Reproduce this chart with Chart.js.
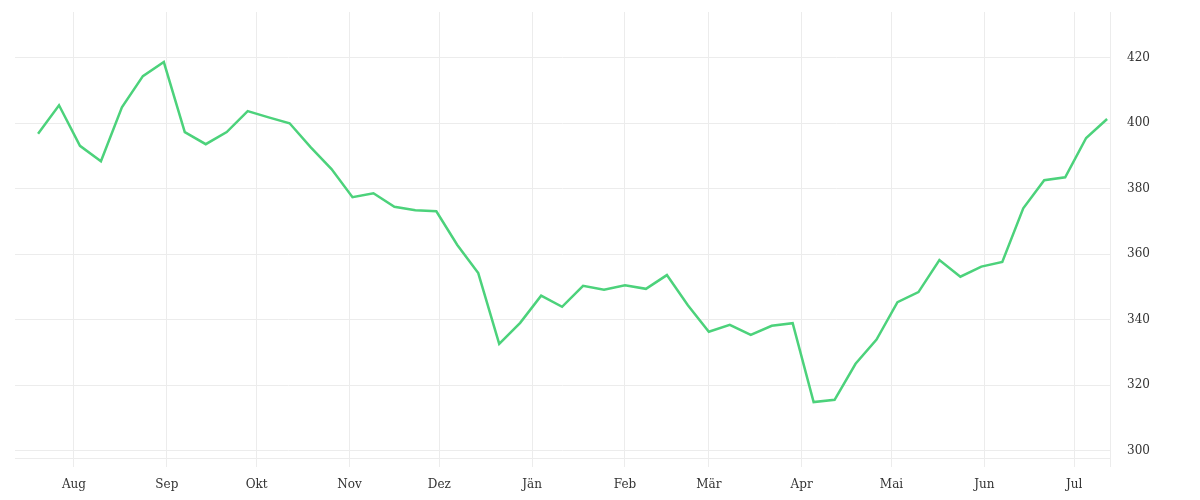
<!DOCTYPE html>
<html>
<head>
<meta charset="utf-8">
<script src="https://cdn.jsdelivr.net/npm/chart.js@4.4.0/dist/chart.umd.min.js"></script>
<style>
  html, body { margin: 0; padding: 0; background: #fff; }
  #wrap { width: 1200px; height: 500px; }
</style>
</head>
<body>
<div id="wrap"><canvas id="chart"></canvas></div>
<script>
// Wöchentliche Werte, Start 20. Juli (Tag -12 relativ zum 1. August)
var firstDay = -12;
var values = [
    396.8, 405.5, 393.1, 388.4, 404.9, 414.4, 418.7, 397.3, 393.6, 397.3,
    403.7, 401.8, 400.0, 392.7, 386.0, 377.4, 378.6, 374.5, 373.4, 373.1,
    362.8, 354.2, 332.6, 339.0, 347.3, 343.9, 350.3, 349.1, 350.5, 349.4,
    353.6, 344.4, 336.3, 338.4, 335.3, 338.1, 338.9, 314.8, 315.5, 326.5,
    333.9, 345.3, 348.4, 358.2, 353.1, 356.2, 357.6, 374.0, 382.6, 383.5,
    395.5, 401.3
];

// Monatsanfänge (Tage ab 1. August) und Beschriftungen
var monthDays = [0, 31, 61, 92, 122, 153, 184, 212, 243, 273, 304, 334];
var monthLabels = ['Aug', 'Sep', 'Okt', 'Nov', 'Dez', 'Jän', 'Feb', 'Mär', 'Apr', 'Mai', 'Jun', 'Jul'];
var yTicks = [300, 320, 340, 360, 380, 400, 420];

var xMin = -19.7, xMax = 346;
var gridColor = '#ececec';

var points = values.map(function (v, i) {
    return { x: firstDay + i * 7, y: v };
});

new Chart(document.getElementById('chart'), {
    type: 'line',
    data: {
        datasets: [{
            data: points,
            borderColor: '#4cd27b',
            borderWidth: 2.5,
            pointRadius: 0,
            tension: 0,
            fill: false
        }]
    },
    options: {
        responsive: true,
        maintainAspectRatio: false,
        animation: false,
        layout: { padding: { left: 15, right: 33, top: 12, bottom: 1 } },
        plugins: {
            legend: { display: false },
            tooltip: { enabled: false }
        },
        scales: {
            x: {
                type: 'linear',
                min: xMin,
                max: xMax,
                afterBuildTicks: function (axis) {
                    var t = monthDays.map(function (d) { return { value: d }; });
                    t.push({ value: xMax });
                    axis.ticks = t;
                },
                afterFit: function (axis) {
                    axis.height = 41;
                    axis.paddingLeft = 0;
                    axis.paddingRight = 0;
                },
                grid: { color: gridColor, lineWidth: 1, drawTicks: true, tickLength: 9, tickColor: gridColor },
                border: { display: true, color: gridColor },
                ticks: {
                    autoSkip: false,
                    maxRotation: 0,
                    padding: 11,
                    color: '#333',
                    font: { family: 'DejaVu Serif', size: 12 },
                    callback: function (value) {
                        var idx = monthDays.indexOf(value);
                        return idx >= 0 ? monthLabels[idx] : '';
                    }
                }
            },
            y: {
                position: 'right',
                min: 297.7,
                max: 434,
                afterBuildTicks: function (axis) {
                    axis.ticks = yTicks.map(function (v) { return { value: v }; });
                },
                afterFit: function (axis) {
                    axis.paddingTop = 0;
                    axis.paddingBottom = 0;
                },
                grid: { color: gridColor, lineWidth: 1, drawTicks: false },
                border: { display: true, color: gridColor },
                ticks: {
                    padding: 17,
                    color: '#333',
                    font: { family: 'DejaVu Serif', size: 12 },
                    callback: function (value) { return value; }
                }
            }
        }
    }
});
</script>
</body>
</html>
